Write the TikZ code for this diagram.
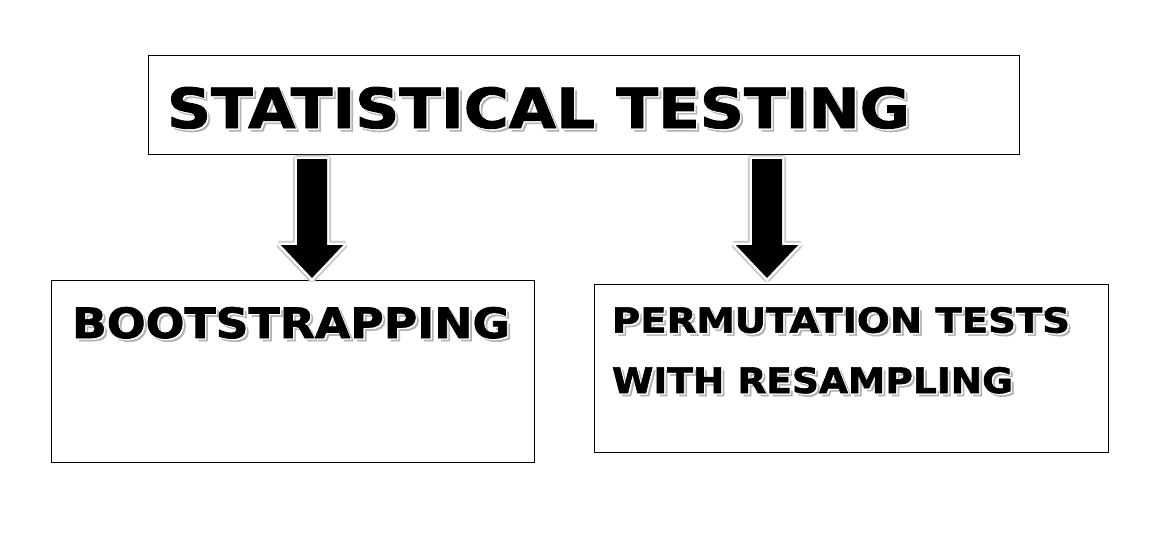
\documentclass[tikz,border=0pt]{standalone}
\usepackage{fontspec}
\setmainfont{DejaVu Sans}[BoldFeatures={FakeBold=1.6}]
\usetikzlibrary{positioning,calc}

% heavy caps with a white rim and a grey shadow
\newcommand{\shadowcaps}[3]{%
  \makebox[0pt][l]{\hspace{2.2pt}\raisebox{-2.2pt}{\color{black!30}\resizebox{#1}{#2}{\bfseries #3}}}%
  \makebox[0pt][l]{\hspace{1pt}\raisebox{-1pt}{\color{white}\resizebox{#1}{#2}{\bfseries #3}}}%
  \resizebox{#1}{#2}{\bfseries #3}}

\begin{document}
\begin{tikzpicture}
  % Colors
  \colorlet{glowcolor}{black!22}

  % Styles
  \tikzstyle{box}=[draw,line width=0.8pt,anchor=north west,inner sep=0pt]
  \tikzstyle{caption}=[inner sep=0pt,outer sep=0pt]
  \tikzstyle{arrow glow}=[draw=glowcolor,line width=6pt,line join=round]
  \tikzstyle{arrow rim}=[draw=white,line width=3.5pt,line join=miter]
  \tikzstyle{arrow body}=[fill=black]

  \useasboundingbox (0,0) rectangle (29.2,-13.875);

  % The boxes
  \node[box,minimum width=21.775cm,minimum height=2.475cm] (testing) at (3.7,-1.375) {};
  \node[box,minimum width=12.075cm,minimum height=4.55cm] (boot) at (1.275,-7.0) {};
  \node[box,minimum width=12.85cm,minimum height=4.2cm] (perm) at (14.85,-7.1) {};

  % The texts
  \node[caption,below right=0.8cm and 0.475cm of testing.north west] (testingtext)
    {\shadowcaps{18.575cm}{1.025cm}{STATISTICAL TESTING}};
  \node[caption,below right=0.675cm and 0.525cm of boot.north west] (boottext)
    {\shadowcaps{10.95cm}{0.775cm}{BOOTSTRAPPING}};
  \node[caption,below right=0.575cm and 0.45cm of perm.north west] (permtext)
    {\shadowcaps{11.45cm}{0.64cm}{PERMUTATION TESTS}};
  \node[caption,below right=1.5cm and 0cm of permtext.north west] (resamptext)
    {\shadowcaps{10.025cm}{0.65cm}{WITH RESAMPLING}};

  % The arrows
  \foreach \src/\dst/\ax/\lift in {testing/boot/7.8/0.05, testing/perm/19.175/0.15}
  {
    \coordinate (top) at ($(\src.south -| \ax,0)+(0,-0.1)$);
    \coordinate (tip) at ($(\dst.north -| \ax,0)+(0,\lift)$);
    \foreach \layer in {arrow glow,arrow rim,arrow body}
      \path[style=\layer] ($(top)+(-0.375,0)$) -- ($(top)+(0.375,0)$)
        -- ($(tip)+(0.375,0.825)$) -- ($(tip)+(0.78,0.825)$) -- (tip)
        -- ($(tip)+(-0.78,0.825)$) -- ($(tip)+(-0.375,0.825)$) -- cycle;
  }
\end{tikzpicture}
\end{document}
